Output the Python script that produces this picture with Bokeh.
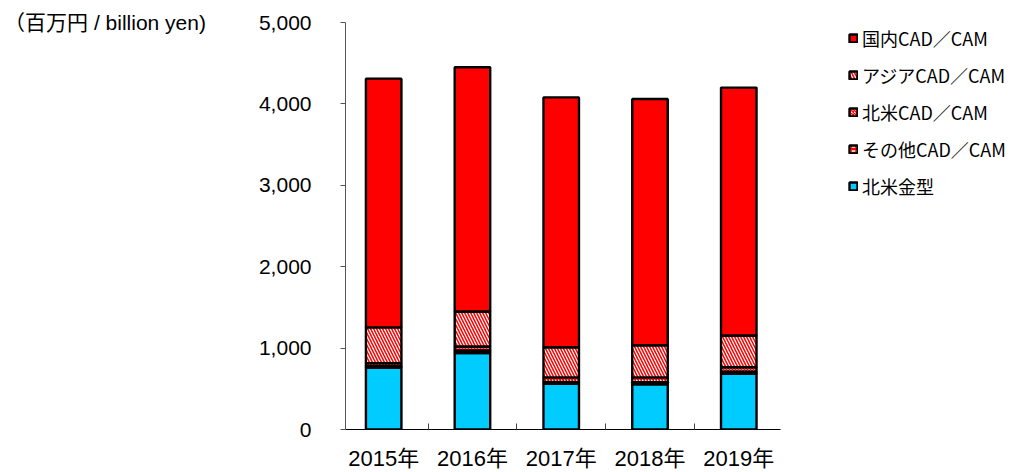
from bokeh.plotting import figure
from bokeh.models import (Range1d, FixedTicker, NumeralTickFormatter, Legend, LegendItem,
                          ColumnDataSource)
from bokeh.embed import file_html
from bokeh.resources import INLINE

years = ["2015年", "2016年", "2017年", "2018年", "2019年"]
na_mold = [760, 940, 560, 555, 685]          # 北米金型
other_cad = [20, 30, 25, 25, 25]             # その他CAD/CAM
na_cad = [35, 50, 55, 60, 55]                # 北米CAD/CAM
asia_cad = [440, 430, 370, 395, 390]         # アジアCAD/CAM
domestic_cad = [3055, 3000, 3070, 3025, 3045]  # 国内CAD/CAM

series = ["na_mold", "other_cad", "na_cad", "asia_cad", "domestic_cad"]
labels = ["北米金型", "その他CAD／CAM", "北米CAD／CAM", "アジアCAD／CAM", "国内CAD／CAM"]
y_ticks = [0, 1000, 2000, 3000, 4000, 5000]
unit_label = "（百万円 / billion yen)"

xs = [i + 1 for i in range(len(years))]
src = ColumnDataSource(dict(x=xs, na_mold=na_mold, other_cad=other_cad, na_cad=na_cad,
                            asia_cad=asia_cad, domestic_cad=domestic_cad))

p = figure(frame_width=435, frame_height=407, output_backend="svg", toolbar_location=None,
           x_range=Range1d(0.57, 5.47), y_range=Range1d(0, 5000),
           min_border_left=345, min_border_right=247, min_border_top=22, min_border_bottom=42)
p.outline_line_color = None
p.xgrid.visible = False
p.ygrid.visible = False
p.background_fill_color = "white"

renderers = p.vbar_stack(
    series, x="x", width=0.4, source=src,
    fill_color=["#00CCFF", "#FF0000", "white", "white", "#FF0000"],
    hatch_pattern=[None, "horizontal_dash", "diagonal_cross", "left_diagonal_line", None],
    hatch_color=["#FF0000", "white", "#FF0000", "#FF0000", "#FF0000"],
    hatch_scale=[6, 4, 3, 6, 6],
    hatch_weight=[1.5, 1.5, 1.5, 1.5, 1.5],
    line_color="black", line_width=2.4,
)

# x axis
xa = p.xaxis[0]
xa.ticker = FixedTicker(ticks=xs, minor_ticks=[1.5, 2.5, 3.5, 4.5])
xa.major_label_overrides = {x: y for x, y in zip(xs, years)}
xa.major_tick_line_color = None
xa.major_tick_in = 0
xa.major_tick_out = 0
xa.minor_tick_in = 6
xa.minor_tick_out = 0
xa.minor_tick_line_color = "#444444"
xa.axis_line_color = "black"
xa.axis_line_width = 1.2
xa.major_label_text_font = "Liberation Sans, Noto Sans CJK JP"
xa.major_label_text_font_size = "22px"
xa.major_label_text_color = "black"
xa.major_label_standoff = 16

# y axis
ya = p.yaxis[0]
ya.ticker = FixedTicker(ticks=y_ticks)
ya.formatter = NumeralTickFormatter(format="0,0")
ya.minor_tick_line_color = None
ya.major_tick_in = 0
ya.major_tick_out = 5
ya.major_tick_line_color = "#555555"
ya.axis_line_color = "#555555"
ya.major_label_text_font = "Liberation Sans"
ya.major_label_text_font_size = "21px"
ya.major_label_text_color = "black"
ya.major_label_standoff = 29
ya.axis_label = unit_label
ya.axis_label_orientation = "horizontal"
ya.axis_label_align = "end"
ya.axis_label_standoff = 50
ya.axis_label_text_font = "Liberation Sans, Noto Sans CJK JP"
ya.axis_label_text_font_size = "21px"
ya.axis_label_text_font_style = "normal"
ya.axis_label_text_color = "black"

items = [LegendItem(label=lab, renderers=[r]) for lab, r in zip(labels, renderers)][::-1]
legend = Legend(items=items, location=(68, 230), orientation="vertical",
                glyph_width=10, glyph_height=10, label_height=20, spacing=11,
                label_standoff=4, padding=0, margin=0,
                border_line_color=None, background_fill_alpha=0,
                label_text_font="Noto Sans CJK JP", label_text_font_size="18px",
                label_text_color="black")
p.add_layout(legend, "right")

open("out.html", "w").write(file_html(p, INLINE))
